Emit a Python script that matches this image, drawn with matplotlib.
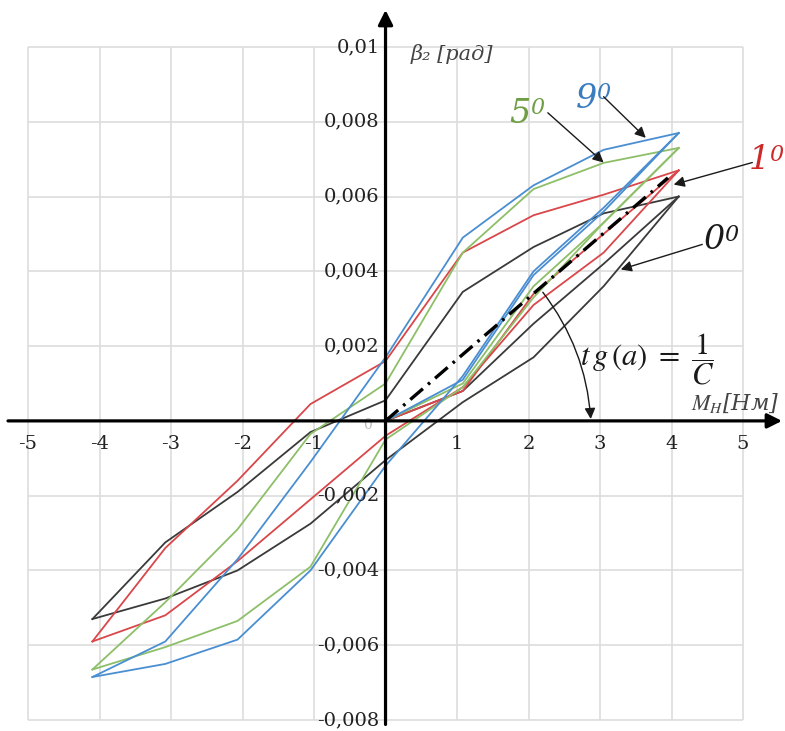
import matplotlib.pyplot as plt

plt.rcParams['mathtext.fontset'] = 'stix'
plt.rcParams['font.family'] = ['DejaVu Serif']

# moment values along each branch, N*m
m_load = [0, 1.08, 2.07, 3.05, 4.1]
m_down = [4.1, 3.05, 2.07, 1.08, 0, -1.05, -2.07, -3.08, -4.1]
m_up = [-4.1, -3.08, -2.07, -1.05, 0, 1.08, 2.07, 3.05, 4.1]

# 0 deg
b0_load = [0, 0.0008, 0.0026, 0.0042, 0.0060]
b0_down = [0.0060, 0.00555, 0.00465, 0.00345, 0.00055, -0.0003, -0.0019, -0.00325, -0.0053]
b0_up = [-0.0053, -0.00475, -0.0040, -0.00275, -0.00105, 0.0005, 0.0017, 0.0036, 0.0060]
# 1 deg
b1_load = [0, 0.0008, 0.0034, 0.0050, 0.0067]
b1_down = [0.0067, 0.00605, 0.0055, 0.0045, 0.0016, 0.00045, -0.0016, -0.0034, -0.0059]
b1_up = [-0.0059, -0.0052, -0.00375, -0.0021, -0.0004, 0.0009, 0.0031, 0.0045, 0.0067]
# 5 deg
b5_load = [0, 0.0010, 0.0036, 0.0053, 0.0073]
b5_down = [0.0073, 0.0069, 0.0062, 0.0045, 0.0010, -0.00035, -0.0029, -0.00485, -0.00665]
b5_up = [-0.00665, -0.00605, -0.00535, -0.0039, -0.0005, 0.0009, 0.0033, 0.0053, 0.0073]
# 9 deg
b9_load = [0, 0.0011, 0.0039, 0.0056, 0.0077]
b9_down = [0.0077, 0.00725, 0.0063, 0.0049, 0.0017, -0.0011, -0.0037, -0.0059, -0.00685]
b9_up = [-0.00685, -0.0065, -0.00585, -0.0040, -0.0012, 0.0012, 0.0040, 0.0057, 0.0077]

# stiffness line tg(a) = 1/C
c_x = [0, 3.95]
c_y = [0, 0.0065]

grid_x = [-5, -4, -3, -2, -1, 1, 2, 3, 4, 5]
grid_y = [-0.008, -0.006, -0.004, -0.002, 0.002, 0.004, 0.006, 0.008, 0.01]
xlabels = ['-5', '-4', '-3', '-2', '-1', '1', '2', '3', '4', '5']
ylabels = ['-0,008', '-0,006', '-0,004', '-0,002', '0,002', '0,004', '0,006', '0,008', '0,01']

colors = {'0': '#3a3a3a', '1': '#d9474a', '5': '#8dbf68', '9': '#4a8ed2'}

fig = plt.figure(figsize=(7.85, 7.31), dpi=100)
ax = fig.add_axes([0, 0, 1, 1])
ax.set_xlim(-5.392, 5.587)
ax.set_ylim(-0.008294, 0.011257)
ax.axis('off')

# grid
ax.vlines(grid_x + [0], -0.008, 0.01, color='#dddddd', lw=1.2, zorder=0)
ax.hlines(grid_y + [0], -5, 5, color='#dddddd', lw=1.2, zorder=0)

# axes with arrows
ax.annotate('', xy=(5.545, 0), xytext=(-5.28, 0),
            arrowprops=dict(arrowstyle='-|>', lw=2.3, color='black', mutation_scale=22,
                            shrinkA=0, shrinkB=0), zorder=5)
ax.annotate('', xy=(0, 0.01099), xytext=(0, -0.00812),
            arrowprops=dict(arrowstyle='-|>', lw=2.3, color='black', mutation_scale=22,
                            shrinkA=0, shrinkB=0), zorder=5)

for x, lab in zip(grid_x, xlabels):
    ax.text(x, -0.00062, lab, ha='center', va='center', fontsize=14, color='#222222')
for y, lab in zip(grid_y, ylabels):
    ax.text(-0.08, y, lab, ha='right', va='center', fontsize=14, color='#222222')
ax.text(-0.25, -0.0001, '0', ha='center', va='center', fontsize=10, color='#bbbbbb', zorder=0)

# hysteresis loops
loops = [
    ('0', b0_load, b0_down, b0_up),
    ('1', b1_load, b1_down, b1_up),
    ('5', b5_load, b5_down, b5_up),
    ('9', b9_load, b9_down, b9_up),
]
for key, load, down, up in loops:
    c = colors[key]
    ax.plot(m_load, load, color=c, lw=1.3, zorder=2)
    ax.plot(m_down, down, color=c, lw=1.3, zorder=2)
    ax.plot(m_up, up, color=c, lw=1.3, zorder=2)

ax.plot(c_x, c_y, color='black', lw=2.4, dashes=(5, 2, 0.8, 2), zorder=3)

# axis titles
ax.text(0.35, 0.0098, 'β₂ [рад]', ha='left', va='center', fontsize=15,
        style='italic', color='#444444')
ax.text(4.27, 0.00048, r'$M_H$[Нм]', ha='left', va='center', fontsize=16,
        style='italic', color='#444444')

# curve labels: digit with a degree-like superscript zero
def angle_label(x, y, digit, color):
    ax.text(x, y, digit, ha='left', va='center', fontsize=24, style='italic', color=color)
    ax.annotate('0', xy=(x, y), xytext=(15, 4), textcoords='offset points',
                ha='left', va='center', fontsize=16, style='italic', color=color)

angle_label(1.73, 0.00822, '5', '#6f9e45')
angle_label(2.66, 0.00862, '9', '#3a7cc0')
angle_label(5.08, 0.00697, '1', '#cc2a2a')
angle_label(4.45, 0.00483, '0', '#1a1a1a')

ax.text(2.72, 0.00165, r'$t\,g\,(a)\ =\ \dfrac{1}{C}$', ha='left', va='center',
        fontsize=22, color='#1a1a1a')

arrow = dict(arrowstyle='-|>', lw=1.0, color='#1a1a1a', mutation_scale=16,
             shrinkA=0, shrinkB=0)
ax.annotate('', xy=(3.05, 0.00691), xytext=(2.27, 0.00824), arrowprops=arrow)
ax.annotate('', xy=(3.64, 0.00757), xytext=(3.05, 0.00867), arrowprops=arrow)
ax.annotate('', xy=(4.03, 0.00632), xytext=(5.13, 0.00691), arrowprops=arrow)
ax.annotate('', xy=(3.29, 0.00405), xytext=(4.43, 0.00472), arrowprops=arrow)
ax.annotate('', xy=(2.87, 0.00005), xytext=(2.2, 0.00344),
            arrowprops=dict(arrow, connectionstyle='arc3,rad=-0.15'))

plt.savefig('out.png', dpi=100)
